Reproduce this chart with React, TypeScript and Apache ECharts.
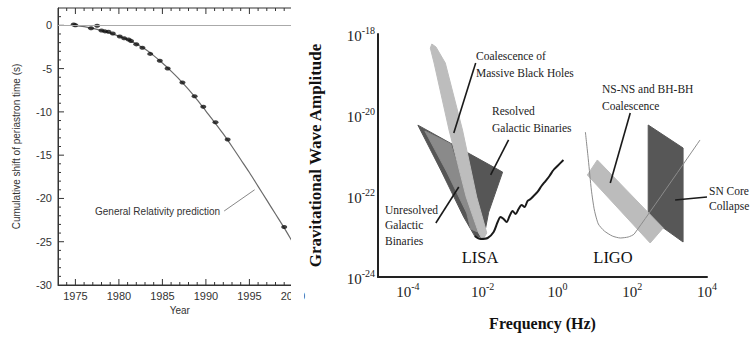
import React, { useEffect, useRef } from "react";
import * as echarts from "echarts";

// ---------- Left panel: cumulative shift of periastron time ----------
const obsYears = [1974.8, 1975.0, 1976.8, 1977.5, 1978.0, 1978.4, 1978.8, 1979.3, 1980.1, 1980.6, 1981.1, 1981.4, 1982.0, 1982.7, 1983.6, 1984.7, 1985.6, 1987.3, 1988.7, 1989.7, 1991.1, 1992.5, 1999.0];
const obsShift = [0.1, 0.0, -0.35, -0.05, -0.6, -0.7, -0.75, -0.95, -1.3, -1.5, -1.65, -1.8, -2.2, -2.6, -3.3, -4.1, -5.0, -6.6, -8.2, -9.4, -11.2, -13.2, -23.3];
const grYears = [1974.8, 1976, 1977, 1978, 1979, 1980, 1981, 1982, 1983, 1984, 1985, 1986, 1987, 1988, 1989, 1990, 1991, 1992, 1993, 1994, 1995, 1996, 1997, 1998, 1999, 2000, 2001];
const grShift = [0, -0.15, -0.35, -0.6, -0.9, -1.25, -1.65, -2.15, -2.75, -3.5, -4.35, -5.3, -6.3, -7.4, -8.6, -9.9, -11.2, -12.55, -14.0, -15.5, -17.0, -18.6, -20.2, -21.8, -23.4, -25.1, -26.8];
const yearLabels = [1975, 1980, 1985, 1990, 1995, 2000];
const shiftLabels = [-30, -25, -20, -15, -10, -5, 0];
const yearTicks = [1974, 1975, 1976, 1977, 1978, 1979, 1980, 1981, 1982, 1983, 1984, 1985, 1986, 1987, 1988, 1989, 1990, 1991, 1992, 1993, 1994, 1995, 1996, 1997, 1998, 1999, 2000];
const shiftTicks = [-29, -28, -27, -26, -25, -24, -23, -22, -21, -20, -19, -18, -17, -16, -15, -14, -13, -12, -11, -10, -9, -8, -7, -6, -5, -4, -3, -2, -1, 0, 1];
const grPointer = [[1992.1, -21.45], [1995.6, -19.0]];

// ---------- Right panel: gravitational wave spectrum (log10 units) ----------
const freqTicks = [-4, -2, 0, 2, 4];
const ampTicks = [-24, -22, -20, -18];
const galacticBinaries = [[-3.733, -20.25], [-1.467, -21.41], [-1.84, -22.4], [-1.973, -23.04], [-2.213, -22.99], [-2.507, -22.52], [-3.12, -21.36]];
const unresolvedBinaries = [[-3.547, -20.395], [-2.853, -20.716], [-2.133, -22.889], [-2.32, -22.815], [-2.427, -22.42], [-2.96, -21.407]];
const massiveBlackHoles = [[-3.36, -18.247], [-3.25, -18.32], [-3.0, -18.716], [-2.54, -20.37], [-2.16, -22.025], [-1.89, -22.914], [-2.0, -23.086], [-2.107, -22.914], [-2.44, -22.025], [-2.9, -20.37], [-3.3, -18.716], [-3.4, -18.35]];
const lisaSensitivity = [[-2.213, -22.988], [-2.053, -23.062], [-1.867, -23.037], [-1.707, -22.889], [-1.6, -22.642], [-1.52, -22.519], [-1.44, -22.568], [-1.36, -22.642], [-1.28, -22.494], [-1.2, -22.37], [-1.12, -22.444], [-1.04, -22.321], [-0.96, -22.222], [-0.88, -22.272], [-0.8, -22.123], [-0.72, -22.074], [-0.64, -22.0], [-0.533, -21.901], [-0.427, -21.753], [-0.32, -21.63], [-0.213, -21.506], [-0.107, -21.358], [0, -21.259], [0.16, -21.111]];
const nsnsCoalescence = [[0.8, -21.481], [1.067, -21.111], [2.827, -22.79], [2.48, -23.16]];
const snCoreCollapse = [[2.427, -20.247], [3.36, -20.815], [3.36, -23.136], [2.427, -22.519]];
const ligoSensitivity = [[0.747, -20.42], [0.827, -21.111], [0.907, -21.852], [0.987, -22.346], [1.093, -22.691], [1.253, -22.864], [1.467, -22.988], [1.68, -23.037], [1.893, -23.012], [2.053, -22.938], [3.813, -20.617]];
const pointers = [
  [[-2.187, -18.716], [-2.773, -20.444]],
  [[-1.307, -20.617], [-1.787, -21.481]],
  [[-3.253, -22.667], [-2.64, -21.778]],
  [[1.947, -19.951], [1.413, -21.679]],
  [[4.0, -22.025], [3.147, -22.099]],
];

const SANS = "'Liberation Sans', Arial, sans-serif";
const SERIF = "'Liberation Serif', 'Times New Roman', serif";

export default function App() {
  const ref = useRef<HTMLDivElement>(null);
  useEffect(() => {
    if (!ref.current) return;
    const chart = echarts.init(ref.current, null, { renderer: "svg" });
    const shapes = [
      { pts: galacticBinaries, fill: "#565656" },
      { pts: unresolvedBinaries, fill: "#8a8a8a" },
      { pts: massiveBlackHoles, fill: "#bdbdbd" },
      { pts: snCoreCollapse, fill: "#575757" },
      { pts: nsnsCoalescence, fill: "#bcbcbc" },
    ];
    const X_MIN = 1973, X_MAX = 2001, Y_MIN = -30, Y_MAX = 2;
    // frame ticks: dir 0 bottom (up), 1 top (down), 2 left (right)
    const ticks: { at: number[]; dir: number; major: boolean }[] = [];
    yearTicks.forEach((yr) => {
      const major = yearLabels.includes(yr);
      ticks.push({ at: [yr, Y_MIN], dir: 0, major });
      ticks.push({ at: [yr, Y_MAX], dir: 1, major });
    });
    shiftTicks.forEach((v) => ticks.push({ at: [X_MIN, v], dir: 2, major: shiftLabels.includes(v) }));

    const frameColor = "#333";
    const supLabel = {
      fontFamily: SERIF,
      color: "#222",
      formatter: (v: number) => `{a|10}{b|${v}}`,
      rich: {
        a: { fontFamily: SERIF, fontSize: 15, lineHeight: 18, color: "#222", verticalAlign: "bottom" },
        b: { fontFamily: SERIF, fontSize: 10, lineHeight: 10, color: "#222", verticalAlign: "top" },
      },
    };
    const option: any = {
      animation: false,
      grid: [
        { left: 58, top: 8, width: 243.6, height: 277, show: true, borderColor: frameColor, borderWidth: 1, backgroundColor: "transparent" },
        { left: 378, top: 34, width: 329, height: 243 },
      ],
      xAxis: [
        {
          gridIndex: 0, type: "value", min: X_MIN, max: X_MAX, interval: 1, position: "bottom",
          name: "Year", nameLocation: "middle", nameGap: 13,
          nameTextStyle: { fontFamily: SANS, fontSize: 10, color: "#333" },
          axisLine: { show: true, onZero: false, lineStyle: { color: frameColor, width: 1 } },
          axisTick: { show: false },
          axisLabel: { customValues: yearLabels, formatter: (v: number) => (v % 5 === 0 ? String(v) : ""), fontFamily: SANS, fontSize: 11, color: "#333", margin: 5 },
          splitLine: { show: false },
        },
        {
          gridIndex: 1, type: "value", min: -4.8, max: 4, position: "bottom",
          name: "Frequency (Hz)", nameLocation: "middle", nameGap: 38,
          nameTextStyle: { fontFamily: SERIF, fontSize: 16, fontWeight: "bold", color: "#111" },
          axisLine: { show: true, onZero: false, lineStyle: { color: "#222", width: 2 } },
          axisTick: { show: false },
          axisLabel: { ...supLabel, customValues: freqTicks, margin: 4 },
          splitLine: { show: false },
        },
      ],
      yAxis: [
        {
          gridIndex: 0, type: "value", min: Y_MIN, max: Y_MAX, interval: 1, position: "left",
          name: "Cumulative shift of periastron time (s)", nameLocation: "middle", nameGap: 37,
          nameTextStyle: { fontFamily: SANS, fontSize: 10, color: "#333" },
          axisLine: { show: true, onZero: false, lineStyle: { color: frameColor, width: 1 } },
          axisTick: { show: false },
          axisLabel: { customValues: shiftLabels, formatter: (v: number) => (v % 5 === 0 ? String(v) : ""), fontFamily: SANS, fontSize: 11, color: "#333", margin: 6 },
          splitLine: { show: false },
        },
        {
          gridIndex: 1, type: "value", min: -24, max: -18, position: "left",
          name: "Gravitational Wave Amplitude", nameLocation: "middle", nameGap: 54,
          nameTextStyle: { fontFamily: SERIF, fontSize: 17, fontWeight: "bold", color: "#111" },
          axisLine: { show: true, onZero: false, lineStyle: { color: "#222", width: 2 } },
          axisTick: { show: false },
          axisLabel: { ...supLabel, customValues: ampTicks, margin: 3 },
          splitLine: { show: false },
        },
      ],
      series: [
        {
          type: "custom", xAxisIndex: 0, yAxisIndex: 0, silent: true, z: 3, clip: false,
          data: ticks.map((t) => t.at),
          renderItem: (params: any, api: any) => {
            const t = ticks[params.dataIndex];
            const p = api.coord(t.at);
            const len = t.major ? 6 : 3;
            const d = t.dir === 0 ? [0, -len] : t.dir === 1 ? [0, len] : [len, 0];
            return { type: "line", shape: { x1: p[0], y1: p[1], x2: p[0] + d[0], y2: p[1] + d[1] }, style: { stroke: frameColor, lineWidth: 1 } };
          },
        },
        {
          type: "line", xAxisIndex: 0, yAxisIndex: 0, data: grYears.map((y, i) => [y, grShift[i]]),
          showSymbol: false, smooth: 0.3, lineStyle: { color: "#6a6a6a", width: 1.2 }, z: 3,
          markLine: { silent: true, symbol: "none", label: { show: false }, lineStyle: { color: "#aaa", width: 1, type: "solid" }, data: [{ yAxis: 0 }] },
        },
        {
          type: "scatter", xAxisIndex: 0, yAxisIndex: 0, data: obsYears.map((y, i) => [y, obsShift[i]]),
          symbol: "circle", symbolSize: [6, 4], itemStyle: { color: "#111" }, z: 4,
        },
        {
          type: "line", xAxisIndex: 0, yAxisIndex: 0, data: grPointer, showSymbol: false,
          lineStyle: { color: "#888", width: 1 },
        },
        {
          type: "custom", xAxisIndex: 1, yAxisIndex: 1, silent: true, z: 2,
          data: shapes.map((s) => s.pts[0]),
          renderItem: (params: any, api: any) => {
            const s = shapes[params.dataIndex];
            return { type: "polygon", shape: { points: s.pts.map((p) => api.coord(p)) }, style: { fill: s.fill, stroke: s.fill, lineWidth: 1 } };
          },
        },
        {
          type: "line", xAxisIndex: 1, yAxisIndex: 1, data: lisaSensitivity, showSymbol: false, smooth: 0.3,
          lineStyle: { color: "#1a1a1a", width: 2 }, z: 5,
        },
        {
          type: "line", xAxisIndex: 1, yAxisIndex: 1, data: ligoSensitivity, showSymbol: false, smooth: 0.2,
          lineStyle: { color: "#8c8c8c", width: 1 }, z: 5,
        },
        {
          type: "custom", xAxisIndex: 1, yAxisIndex: 1, silent: true, z: 6,
          data: pointers.map((p) => p[0]),
          renderItem: (params: any, api: any) => {
            const p = pointers[params.dataIndex];
            const a = api.coord(p[0]);
            const b = api.coord(p[1]);
            return { type: "line", shape: { x1: a[0], y1: a[1], x2: b[0], y2: b[1] }, style: { stroke: "#1a1a1a", lineWidth: 1.6 } };
          },
        },
      ],
      graphic: [
        { type: "rect", z: 100, shape: { x: 291, y: 0, width: 13, height: 338 }, style: { fill: "#fff" } },
        { type: "text", z: 101, x: 95, y: 211, style: { text: "General Relativity prediction", font: `10px ${SANS}`, fill: "#333", verticalAlign: "middle" } },
        { type: "text", z: 101, x: 476, y: 47, style: { text: "Coalescence of\nMassive Black Holes", font: `11.5px ${SERIF}`, lineHeight: 17, fill: "#222" } },
        { type: "text", z: 101, x: 492, y: 102, style: { text: "Resolved\nGalactic Binaries", font: `11.5px ${SERIF}`, lineHeight: 17, fill: "#222" } },
        { type: "text", z: 101, x: 385, y: 202, style: { text: "Unresolved\nGalactic\nBinaries", font: `11.5px ${SERIF}`, lineHeight: 15.5, fill: "#222" } },
        { type: "text", z: 101, x: 480, y: 257, style: { text: "LISA", font: `16.5px ${SERIF}`, fill: "#111", align: "center", verticalAlign: "middle" } },
        { type: "text", z: 101, x: 613, y: 257, style: { text: "LIGO", font: `16.5px ${SERIF}`, fill: "#111", align: "center", verticalAlign: "middle" } },
        { type: "text", z: 101, x: 602, y: 80, style: { text: "NS-NS and BH-BH\nCoalescence", font: `11.5px ${SERIF}`, lineHeight: 17, fill: "#222" } },
        { type: "text", z: 101, x: 709, y: 183, style: { text: "SN Core\nCollapse", font: `11.5px ${SERIF}`, lineHeight: 15, fill: "#222" } },
      ],
    };
    chart.setOption(option);
    return () => chart.dispose();
  }, []);
  return <div ref={ref} style={{ position: "fixed", left: 0, top: 0, width: 753, height: 338, background: "#fff" }} />;
}
